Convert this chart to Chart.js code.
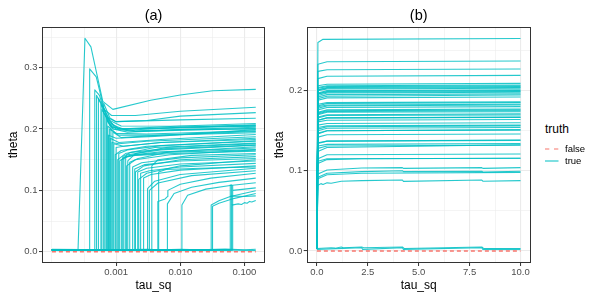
<!DOCTYPE html>
<html><head><meta charset="utf-8">
<script src="https://cdn.jsdelivr.net/npm/chart.js@4.4.1/dist/chart.umd.min.js"></script>
<style>
html,body{margin:0;padding:0;background:#fff;width:600px;height:300px;overflow:hidden;font-family:"Liberation Sans",Arial,sans-serif;}
#wa{position:absolute;left:0;top:0;width:272px;height:300px;}
#wb{position:absolute;left:266px;top:0;width:268px;height:300px;}
.lg{position:absolute;white-space:nowrap;color:#000;}
</style></head><body>
<div id="wa"><canvas id="ca" width="272" height="300"></canvas></div>
<div id="wb"><canvas id="cb" width="268" height="300"></canvas></div>
<div id="legend"></div>
<script>
// ---------------- data ----------------
const panelTitles = ["(a)", "(b)"];
const xTitle = "tau_sq";
const yTitle = "theta";
const legendTitle = "truth";
const seriesNames = ["false", "true"];
const seriesColors = ["#F8766D", "rgba(0,191,196,0.85)"];

const xMajorA = [0.001, 0.01, 0.1];
const xLabelsA = ["0.001", "0.010", "0.100"];
const xGridA = [0.0001, 0.00031623, 0.001, 0.0031623, 0.01, 0.031623, 0.1];
const yMajorA = [0, 0.1, 0.2, 0.3];
const yLabelsA = ["0.0", "0.1", "0.2", "0.3"];
const yGridA = [0, 0.05, 0.1, 0.15, 0.2, 0.25, 0.3, 0.35];

const xMajorB = [0, 2.5, 5, 7.5, 10];
const xLabelsB = ["0.0", "2.5", "5.0", "7.5", "10.0"];
const xGridB = [0, 1.25, 2.5, 3.75, 5, 6.25, 7.5, 8.75, 10];
const yMajorB = [0, 0.1, 0.2];
const yLabelsB = ["0.0", "0.1", "0.2"];
const yGridB = [0, 0.05, 0.1, 0.15, 0.2, 0.25];

const tauStartA = 0.0001;
const baseTheta = 0.003;

// tau at which each "true" path leaves the baseline
const aJumpTau = [
  2.55e-4, 3.87e-4, 4.65e-4, 4.95e-4, 5.8e-4, 6.0e-4, 6.4e-4,
  6.68e-4, 7.18e-4, 7.4e-4, 7.85e-4, 8.3e-4, 8.9e-4,
  8.6e-4, 9.2e-4, 9.7e-4, 1.06e-3, 1.14e-3, 1.22e-3, 1.32e-3, 1.41e-3, 1.52e-3, 1.63e-3,
  1.81e-3, 1.95e-3, 2.17e-3, 2.41e-3,
  2.68e-3, 3.09e-3, 3.3e-3, 4.47e-3, 3.6e-3, 6.3e-3, 1.06e-2, 4.6e-3,
  3.03e-2, 3.18e-2, 5.97e-2, 6.25e-2, 6.5e-2,
  7.0e-4, 7.6e-4, 8.1e-4, 1.0e-3, 1.1e-3, 1.27e-3, 1.46e-3, 2.0e-3, 2.25e-3, 5.3e-4
];
// panel (a): [tau, theta] after leaving the baseline
const aPaths = [
  [[3.27e-4,.348],[4.05e-4,.334],[5.0e-4,.29],[6.2e-4,.245],[8.9e-4,.232],[3.45e-3,.247],[1e-2,.2555],[3.2e-2,.2625],[.15,.2647]],
  [[3.87e-4,.298],[4.9e-4,.285],[5.6e-4,.26],[6.5e-4,.232],[8.5e-4,.222],[2e-3,.222],[1e-2,.229],[.15,.2354]],
  [[4.65e-4,.264],[5.5e-4,.255],[6.3e-4,.235],[7.5e-4,.218],[1e-3,.212],[1e-2,.215],[.15,.2175]],
  [[4.95e-4,.255],[5.7e-4,.243],[6.5e-4,.225],[8e-4,.212],[1.1e-3,.2],[1e-2,.205],[.15,.209]],
  [[5.8e-4,.24],[6.6e-4,.232],[8e-4,.214],[1.2e-3,.205],[.15,.2045]],
  [[6.0e-4,.232],[7e-4,.22],[9e-4,.2],[1.5e-3,.195],[1e-2,.199],[.15,.2]],
  [[6.4e-4,.242],[8e-4,.218],[1e-3,.212],[3e-3,.214],[1e-2,.221],[.15,.2267]],
  [[6.68e-4,.224],[8e-4,.205],[1.5e-3,.198],[1e-2,.203],[.15,.207]],
  [[7.18e-4,.214],[9e-4,.2],[2e-3,.196],[.15,.201]],
  [[7.4e-4,.205],[1e-3,.193],[3e-3,.192],[.15,.197]],
  [[7.85e-4,.2],[1.1e-3,.19],[5e-3,.19],[.15,.194]],
  [[8.3e-4,.21],[1e-3,.2],[5e-3,.201],[.15,.205]],
  [[8.9e-4,.195],[1.2e-3,.186],[5e-3,.19],[.15,.196]],
  [[8.6e-4,.178],[1.1e-3,.176],[3e-3,.18],[.15,.1875]],
  [[9.2e-4,.176],[1.3e-3,.172],[5e-3,.178],[.15,.183]],
  [[9.7e-4,.158],[1.2e-3,.165],[3e-3,.172],[.15,.18]],
  [[1.06e-3,.15],[1.4e-3,.16],[4e-3,.17],[.15,.177]],
  [[1.14e-3,.148],[1.5e-3,.158],[5e-3,.166],[.15,.1737]],
  [[1.22e-3,.15],[1.6e-3,.157],[5e-3,.163],[.15,.169]],
  [[1.32e-3,.153],[1.8e-3,.157],[6e-3,.162],[.15,.1665]],
  [[1.41e-3,.155],[2e-3,.157],[8e-3,.16],[.15,.164]],
  [[1.52e-3,.148],[2e-3,.16],[6e-3,.17],[.15,.176]],
  [[1.63e-3,.146],[2.2e-3,.152],[7e-3,.163],[.15,.171]],
  [[1.81e-3,.138],[2.5e-3,.145],[1e-2,.153],[.15,.158]],
  [[1.95e-3,.135],[2.8e-3,.142],[1e-2,.148],[.15,.152]],
  [[2.17e-3,.13],[3e-3,.136],[1e-2,.143],[.15,.148]],
  [[2.41e-3,.128],[3.3e-3,.132],[1e-2,.138],[.15,.144]],
  [[2.68e-3,.12],[3.5e-3,.126],[1e-2,.133],[.15,.14]],
  [[3.09e-3,.103],[4e-3,.115],[1e-2,.126],[.15,.136]],
  [[3.3e-3,.1],[4.5e-3,.112],[1.5e-2,.124],[.15,.132]],
  [[4.47e-3,.082],[5.8e-3,.086],[6.3e-3,.09],[6.4e-3,.1],[1e-2,.11],[3e-2,.12],[.15,.128]],
  [[3.6e-3,.14],[4.5e-3,.15],[1.5e-2,.157],[.15,.16]],
  [[6.3e-3,.078],[8e-3,.095],[1.5e-2,.105],[4e-2,.113],[.15,.12]],
  [[1.06e-2,.076],[1.3e-2,.092],[2.5e-2,.102],[6e-2,.108],[.15,.1125]],
  [[4.6e-3,.13],[6e-3,.134],[2e-2,.136],[.15,.138]],
  [[3.03e-2,.076],[4e-2,.083],[6e-2,.09],[.15,.0995]],
  [[3.18e-2,.074],[4e-2,.079],[7e-2,.087],[.15,.095]],
  [[5.97e-2,.109],[6.05e-2,.091],[.1,.09],[.15,.091]],
  [[6.25e-2,.109],[6.35e-2,.076],[8e-2,.078],[9e-2,.077],[.1,.08],[.11,.079],[.12,.082],[.13,.081],[.15,.0835]],
  [[6.5e-2,.108],[6.6e-2,.1],[.1,.102],[.15,.104]],
  [[7.0e-4,.218],[8.5e-4,.203],[2e-3,.197],[.15,.203]],
  [[7.6e-4,.19],[1e-3,.185],[4e-3,.188],[.15,.199]],
  [[8.1e-4,.185],[1.1e-3,.178],[5e-3,.183],[.15,.191]],
  [[1.0e-3,.17],[1.3e-3,.172],[5e-3,.178],[.15,.185]],
  [[1.1e-3,.16],[1.5e-3,.166],[5e-3,.173],[.15,.181]],
  [[1.27e-3,.155],[1.7e-3,.162],[6e-3,.168],[.15,.174]],
  [[1.46e-3,.14],[2e-3,.15],[7e-3,.158],[.15,.166]],
  [[2.0e-3,.13],[2.7e-3,.14],[1e-2,.15],[.15,.155]],
  [[2.25e-3,.118],[3e-3,.128],[1e-2,.14],[.15,.15]],
  [[5.3e-4,.25],[6e-4,.24],[7e-4,.222],[9e-4,.206],[1.3e-3,.2],[.15,.206]]
];
// panel (b): [tau, theta] after tau = 0 (coarse grid up to 10)
const bPaths = [
  [[.05,.26],[.3,.264],[10,.265]],
  [[.05,.233],[.5,.236],[10,.237]],
  [[.05,.215],[.5,.218],[10,.219]],
  [[.05,.206],[.5,.208],[10,.209]],
  [[.05,.201],[.5,.203],[10,.204]],
  [[.05,.197],[.5,.2],[10,.201]],
  [[.05,.224],[.5,.226],[10,.227]],
  [[.05,.204],[.5,.206],[10,.207]],
  [[.05,.196],[.5,.198],[10,.199]],
  [[.05,.194],[.5,.197],[10,.198]],
  [[.05,.19],[.5,.193],[10,.1945]],
  [[.05,.201],[.5,.204],[10,.205]],
  [[.05,.192],[.5,.195],[10,.196]],
  [[.05,.183],[.5,.185],[10,.186]],
  [[.05,.18],[.5,.182],[10,.183]],
  [[.05,.176],[.5,.179],[10,.18]],
  [[.05,.173],[.5,.176],[10,.177]],
  [[.05,.17],[.5,.173],[10,.1737]],
  [[.05,.166],[.5,.169],[10,.1696]],
  [[.05,.163],[.5,.166],[10,.1667]],
  [[.05,.161],[.5,.163],[10,.164]],
  [[.05,.172],[.5,.175],[10,.176]],
  [[.05,.167],[.5,.17],[10,.171]],
  [[.05,.154],[.5,.156],[10,.157]],
  [[.05,.15],[.5,.153],[10,.154]],
  [[.05,.146],[.5,.15],[10,.151]],
  [[.05,.142],[.5,.145],[10,.146]],
  [[.05,.135],[.5,.137],[10,.138]],
  [[.05,.131],[.5,.133],[10,.134]],
  [[.05,.128],[.5,.131],[10,.132]],
  [[.05,.124],[.5,.129],[10,.1325]],
  [[.05,.157],[.5,.159],[10,.16]],
  [[.05,.115],[.5,.12],[10,.121]],
  [[.05,.109],[.5,.114],[2.2,.115],[10,.1156]],
  [[.05,.134],[.5,.137],[10,.1385]],
  [[.05,.096],[.5,.101],[2.2,.1035],[4.2,.104],[4.25,.103],[8.1,.104],[8.15,.103],[10,.104]],
  [[.05,.092],[.5,.097],[2.2,.099],[4.2,.1],[4.25,.099],[8.1,.0995],[8.15,.0985],[10,.0994]],
  [[.05,.09],[.5,.095],[2.2,.097],[10,.098]],
  [[.05,.082],[.2,.084],[.3,.083],[.5,.085],[.7,.0845],[1.2,.087],[2.2,.0878],[4.2,.0885],[4.25,.0868],[8.1,.0885],[8.15,.087],[10,.0877]],
  [[.05,.112],[.5,.115],[10,.1156]],
  [[.05,.2],[.5,.202],[10,.203]],
  [[.05,.196],[.5,.199],[10,.2]],
  [[.05,.188],[.5,.191],[10,.192]],
  [[.05,.181],[.5,.184],[10,.185]],
  [[.05,.178],[.5,.181],[10,.182]],
  [[.05,.171],[.5,.174],[10,.175]],
  [[.05,.163],[.5,.166],[10,.167]],
  [[.05,.152],[.5,.155],[10,.156]],
  [[.05,.147],[.5,.15],[10,.151]],
  [[.05,.203],[.5,.205],[10,.206]]
];
// "true" paths that stay near zero
const aFlat = [
  [[1e-4,.004],[3e-4,.0035],[1e-3,.003],[3e-3,.004],[5e-3,.003],[1e-2,.004],[2e-2,.003],[5e-2,.0045],[.1,.003],[.15,.004]],
  [[1e-4,.002],[1e-3,.0025],[1e-2,.002],[4e-2,.003],[.15,.002]]
];
const bFlat = [
  [[0,.003],[.7,.004],[.9,.0035],[1.2,.005],[1.3,.004],[2.2,.005],[2.3,.004],[4.2,.005],[4.3,.003],[8.1,.005],[8.2,.003],[10,.003]],
  [[0,.002],[2.2,.004],[2.25,.002],[4.2,.004],[4.25,.002],[8.1,.004],[8.15,.002],[10,.002]]
];
// "false" paths
const aFalse = [[1e-4, 0], [.15, 0]];
const bFalse = [[0, 0], [10, 0]];

// ---------------- build ----------------
const FONT = '"Liberation Sans", Arial, sans-serif';
const toXY = p => p.map(([x, y]) => ({x, y}));

function falseDs(path) {
  return {label: seriesNames[0], data: toXY(path), borderColor: seriesColors[0], borderWidth: 1.6, borderDash: [4, 3]};
}
function trueDs(path) {
  return {label: seriesNames[1], data: toXY(path), borderColor: seriesColors[1], borderWidth: 1.1};
}
const dsA = [falseDs(aFalse)];
aPaths.forEach((p, i) => {
  const j = aJumpTau[i];
  dsA.push(trueDs([[tauStartA, baseTheta], [j, baseTheta], ...p]));
});
aFlat.forEach(p => dsA.push(trueDs(p)));

const dsB = [falseDs(bFalse)];
bPaths.forEach(p => dsB.push(trueDs([[0, baseTheta], ...p])));
bFlat.forEach(p => dsB.push(trueDs(p)));

const near = (a, b) => Math.abs(a - b) <= 1e-6 * Math.max(Math.abs(a), 1e-6);
const isMajor = (arr, v) => arr.some(m => near(m, v));
const labelFor = (arr, labels) => v => { const i = arr.findIndex(m => near(m, v)); return i >= 0 ? labels[i] : ''; };

const panelBorder = {
  id: 'panelBorder',
  afterDatasetsDraw(chart) {
    const {ctx, chartArea: a} = chart;
    ctx.save();
    ctx.strokeStyle = '#333333';
    ctx.lineWidth = 1;
    const l = Math.round(a.left), t = Math.round(a.top), r = Math.round(a.right), b = Math.round(a.bottom);
    ctx.strokeRect(l + 0.5, t + 0.5, r - l - 1, b - t - 1);
    ctx.restore();
  }
};

function gridOpts(major) {
  return {
    color: '#EBEBEB',
    lineWidth: c => isMajor(major, c.tick.value) ? 1.1 : 0.55,
    tickColor: c => isMajor(major, c.tick.value) ? '#333333' : 'rgba(0,0,0,0)',
    tickWidth: 1,
    tickLength: 3,
    drawTicks: true
  };
}

function makeChart(id, c) {
  return new Chart(document.getElementById(id), {
    type: 'line',
    data: {datasets: c.datasets},
    options: {
      responsive: false, animation: false, devicePixelRatio: 1, events: [],
      layout: {padding: {left: 0, right: c.padRight, top: 0, bottom: 0}},
      elements: {point: {radius: 0, hoverRadius: 0, hitRadius: 0}, line: {tension: 0, borderJoinStyle: 'round'}},
      plugins: {
        legend: {display: false}, tooltip: {enabled: false},
        title: {display: true, text: c.title, fullSize: false, color: '#000',
          font: {family: FONT, size: 14.5, weight: 'normal'}, padding: {top: 7.5, bottom: 2}}
      },
      scales: {
        x: {
          type: c.xType, min: c.xMin, max: c.xMax,
          afterBuildTicks: s => { s.ticks = c.xGrid.map(v => ({value: v})); },
          afterFit: s => { s.height = 37; },
          ticks: {autoSkip: false, maxRotation: 0, minRotation: 0, padding: 1, color: '#4D4D4D',
            font: {family: FONT, size: 9.5}, callback: labelFor(c.xMajor, c.xLabels)},
          grid: gridOpts(c.xMajor),
          border: {display: false},
          title: {display: true, text: xTitle, color: '#000', font: {family: FONT, size: 12}, padding: {top: 0, bottom: 7}}
        },
        y: {
          type: 'linear', min: c.yMin, max: c.yMax,
          afterBuildTicks: s => { s.ticks = c.yGrid.map(v => ({value: v})); },
          afterFit: s => { s.width = c.yWidth; },
          ticks: {autoSkip: false, padding: 1.5, color: '#4D4D4D',
            font: {family: FONT, size: 9.5}, callback: labelFor(c.yMajor, c.yLabels)},
          grid: gridOpts(c.yMajor),
          border: {display: false},
          title: {display: true, text: yTitle, color: '#000', font: {family: FONT, size: 12}, padding: {top: 6.5, bottom: 0}}
        }
      }
    },
    plugins: [panelBorder]
  });
}

makeChart('ca', {
  datasets: dsA, title: panelTitles[0], padRight: 7, yWidth: 42,
  xType: 'logarithmic', xMin: Math.pow(10, -4.14), xMax: Math.pow(10, -0.68),
  xGrid: xGridA, xMajor: xMajorA, xLabels: xLabelsA,
  yMin: -0.0184, yMax: 0.3665, yGrid: yGridA, yMajor: yMajorA, yLabels: yLabelsA
});
makeChart('cb', {
  datasets: dsB, title: panelTitles[1], padRight: 3.3, yWidth: 40.7,
  xType: 'linear', xMin: -0.5, xMax: 10.5,
  xGrid: xGridB, xMajor: xMajorB, xLabels: xLabelsB,
  yMin: -0.015, yMax: 0.2795, yGrid: yGridB, yMajor: yMajorB, yLabels: yLabelsB
});

// ---------------- legend (HTML) ----------------
(function () {
  const lg = document.getElementById('legend');
  const t = document.createElement('div');
  t.className = 'lg';
  t.style.cssText = 'left:545px;top:122px;font-size:12px;line-height:14px;';
  t.textContent = legendTitle;
  lg.appendChild(t);
  const rowsY = [149.3, 160.7];
  seriesNames.forEach((name, i) => {
    const svgNS = 'http://www.w3.org/2000/svg';
    const svg = document.createElementNS(svgNS, 'svg');
    svg.setAttribute('width', '14'); svg.setAttribute('height', '4');
    svg.style.cssText = `position:absolute;left:545px;top:${rowsY[i] - 2}px;`;
    const ln = document.createElementNS(svgNS, 'line');
    ln.setAttribute('x1', '0'); ln.setAttribute('x2', '13.5');
    ln.setAttribute('y1', '2'); ln.setAttribute('y2', '2');
    ln.setAttribute('stroke', seriesColors[i]); ln.setAttribute('stroke-width', '1.2');
    if (i === 0) ln.setAttribute('stroke-dasharray', '4.3 4.7');
    svg.appendChild(ln);
    lg.appendChild(svg);
    const d = document.createElement('div');
    d.className = 'lg';
    d.style.cssText = `left:565px;top:${rowsY[i] - 6}px;font-size:9.5px;line-height:12px;`;
    d.textContent = name;
    lg.appendChild(d);
  });
})();
</script>
</body></html>
